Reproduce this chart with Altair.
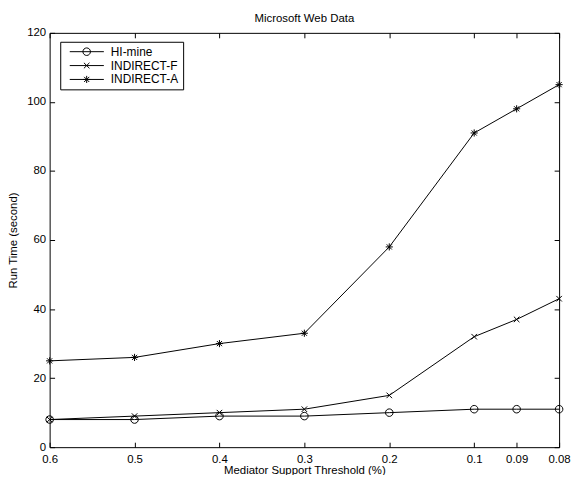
import altair as alt
import pandas as pd

# ---- data ----
thresholds = ["0.6", "0.5", "0.4", "0.3", "0.2", "0.1", "0.09", "0.08"]
x_index = [1, 2, 3, 4, 5, 6, 6.5, 7]
hi_mine = [8, 8, 9, 9, 10, 11, 11, 11]
indirect_f = [8, 9, 10, 11, 15, 32, 37, 43]
indirect_a = [25, 26, 30, 33, 58, 91, 98, 105]
series = ["HI-mine", "INDIRECT-F", "INDIRECT-A"]
y_ticks = [0, 20, 40, 60, 80, 100, 120]

rows = []
for name, vals in zip(series, [hi_mine, indirect_f, indirect_a]):
    for xi, lab, v in zip(x_index, thresholds, vals):
        rows.append({"series": name, "xi": xi, "label": lab, "value": v})
df = pd.DataFrame(rows)

W, H = 514, 418
FONT = "Liberation Sans"
FS = 11.5

label_expr = " : ".join(
    f"datum.value == {xi} ? '{lab}'" for xi, lab in zip(x_index, thresholds)
) + " : ''"


def circle(m, r):
    return f"M{m + r},0A{r},{r} 0 1,0 {m - r},0A{r},{r} 0 1,0 {m + r},0"


def xmark(m, h):
    return f"M{m - h},{-h}L{m + h},{h}M{m - h},{h}L{m + h},{-h}"


def star(m, h):
    d = h * 0.72
    return (f"M{m - h},0L{m + h},0M{m},{-h}L{m},{h}"
            f"M{m - d},{-d}L{m + d},{d}M{m - d},{d}L{m + d},{-d}")


marker_paths = [circle(0, 0.95), xmark(0, 0.7), star(0, 0.9)]
LINE = "M-0.1,0L8.5,0"
M = 4.17
legend_paths = [LINE + circle(M, 0.95), LINE + xmark(M, 0.7), LINE + star(M, 0.9)]

xscale = alt.Scale(domain=[1, 7], nice=False, zero=False)
yscale = alt.Scale(domain=[0, 120], nice=False, zero=False)

txt = dict(labelFont=FONT, labelFontSize=FS, labelColor="black",
           titleFont=FONT, titleFontSize=FS, titleColor="black",
           titleFontWeight="normal")

# layer with labelled axes
lines = alt.Chart(df).mark_line(color="black", strokeWidth=1).encode(
    x=alt.X("xi:Q", scale=xscale,
            axis=alt.Axis(orient="bottom", values=x_index, labelExpr=label_expr,
                          ticks=False, domain=False, grid=False, labelFlush=False,
                          labelOverlap=False, labelPadding=6,
                          title="Mediator Support Threshold (%)", titlePadding=0,
                          **txt)),
    y=alt.Y("value:Q", scale=yscale,
            axis=alt.Axis(orient="left", values=y_ticks, ticks=False, domain=False,
                          grid=False, labelFlush=False, labelOverlap=False,
                          labelPadding=4, title="Run Time (second)", titlePadding=8,
                          **txt)),
    detail="series:N",
)

# markers; axes give inward ticks on bottom and left
points = alt.Chart(df).mark_point(filled=False, color="black", strokeWidth=1,
                                  size=64, opacity=1).encode(
    x=alt.X("xi:Q", scale=xscale,
            axis=alt.Axis(orient="top", offset=-H, values=x_index, labels=False,
                          ticks=True, tickSize=5, tickColor="black", domain=False,
                          grid=False, title=None)),
    y=alt.Y("value:Q", scale=yscale,
            axis=alt.Axis(orient="right", offset=-W, values=y_ticks, labels=False,
                          ticks=True, tickSize=5, tickColor="black", domain=False,
                          grid=False, title=None)),
    shape=alt.Shape("series:N", scale=alt.Scale(domain=series, range=marker_paths),
                    legend=None),
)

# invisible layer carrying inward ticks on top and right
ticks_tr = alt.Chart(df).mark_point(opacity=0).encode(
    x=alt.X("xi:Q", scale=xscale,
            axis=alt.Axis(orient="bottom", offset=-H, values=x_index, labels=False,
                          ticks=True, tickSize=5, tickColor="black", domain=False,
                          grid=False, title=None)),
    y=alt.Y("value:Q", scale=yscale,
            axis=alt.Axis(orient="left", offset=-W, values=y_ticks, labels=False,
                          ticks=True, tickSize=5, tickColor="black", domain=False,
                          grid=False, title=None)),
)

# legend-only layer
legend_layer = alt.Chart(df).transform_filter("false").mark_point(
    filled=False, color="black", strokeWidth=1, size=64
).encode(
    shape=alt.Shape("series:N", scale=alt.Scale(domain=series, range=legend_paths),
                    legend=alt.Legend(orient="none", legendX=10.7, legendY=9,
                                      title=None, strokeColor="black",
                                      fillColor="white", padding=4, rowPadding=2,
                                      labelFont=FONT, labelFontSize=12,
                                      labelColor="black", labelOffset=35,
                                      symbolSize=64, symbolStrokeColor="black",
                                      symbolFillColor="transparent",
                                      symbolStrokeWidth=1, symbolOpacity=1)),
)

chart = alt.layer(lines, points, ticks_tr, legend_layer).resolve_axis(
    x="independent", y="independent"
).resolve_scale(shape="independent").properties(
    width=W, height=H,
    background="white",
    autosize=alt.AutoSizeParams(type="none"),
    padding={"left": 42, "top": 23, "right": 12, "bottom": 26},
    title=alt.TitleParams("Microsoft Web Data", font=FONT, fontSize=FS,
                          fontWeight="normal", color="black", offset=2),
).configure_view(
    stroke="black", strokeWidth=1
)

chart.save("out.html", embed_options={"renderer": "svg", "actions": False})
